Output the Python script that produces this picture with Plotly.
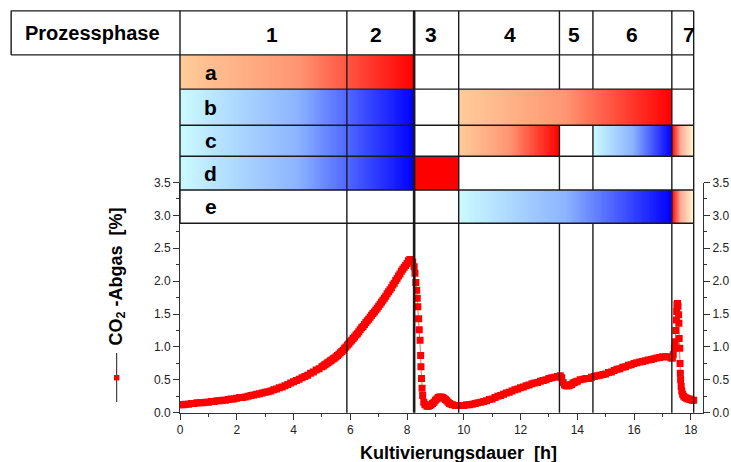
import plotly.graph_objects as go

# ---------------------------------------------------------------------------
# CO2 in the off-gas [%] over cultivation time [h], one list per stretch
# ---------------------------------------------------------------------------
growth = [
    (0.0, .12), (0.1, .12), (0.2, .13), (0.3, .13), (0.4, .14), (0.5, .14), (0.6, .15), (0.7, .15), (0.8, .15), (0.9, .16),
    (1.0, .16), (1.1, .17), (1.2, .17), (1.3, .18), (1.4, .18), (1.5, .19), (1.6, .19), (1.7, .20), (1.8, .21), (1.9, .21),
    (2.0, .22), (2.1, .23), (2.2, .23), (2.3, .24), (2.4, .25), (2.5, .26), (2.6, .27), (2.7, .28), (2.8, .29), (2.9, .30),
    (3.0, .31), (3.1, .32), (3.2, .33), (3.3, .35), (3.4, .36), (3.5, .38), (3.6, .39), (3.7, .41), (3.8, .43), (3.9, .45),
    (4.0, .47), (4.1, .49), (4.2, .51), (4.3, .53), (4.4, .55), (4.5, .57), (4.6, .60), (4.7, .62), (4.8, .65), (4.9, .67),
    (5.0, .70), (5.05, .71), (5.1, .73), (5.15, .74), (5.2, .76), (5.25, .77), (5.3, .79), (5.35, .80), (5.4, .82),
    (5.45, .83), (5.5, .85), (5.55, .87), (5.6, .89), (5.65, .91), (5.7, .93), (5.75, .95), (5.8, .98), (5.85, 1.00),
    (5.9, 1.03), (5.95, 1.05), (6.0, 1.08), (6.05, 1.10), (6.1, 1.13), (6.15, 1.15), (6.2, 1.18), (6.25, 1.20),
    (6.3, 1.23), (6.35, 1.26), (6.4, 1.29), (6.45, 1.31), (6.5, 1.34), (6.55, 1.37), (6.6, 1.40), (6.65, 1.42),
    (6.7, 1.45), (6.75, 1.48), (6.8, 1.51), (6.85, 1.53), (6.9, 1.56), (6.95, 1.59), (7.0, 1.62), (7.05, 1.65),
    (7.1, 1.68), (7.15, 1.71), (7.2, 1.74), (7.25, 1.77), (7.3, 1.81), (7.35, 1.84), (7.4, 1.87), (7.45, 1.90),
    (7.5, 1.94), (7.55, 1.97), (7.6, 2.01), (7.65, 2.04), (7.7, 2.08), (7.75, 2.11), (7.8, 2.15), (7.85, 2.18),
    (7.9, 2.21), (7.95, 2.24), (8.0, 2.27), (8.05, 2.31), (8.1, 2.33), (8.15, 2.32), (8.2, 2.29), (8.25, 2.22),
]
drop = [
    (8.28, 2.12), (8.31, 1.98), (8.34, 1.86), (8.36, 1.74), (8.38, 1.61), (8.41, 1.43), (8.43, 1.26),
    (8.46, 1.10), (8.48, 0.87), (8.49, 0.70), (8.51, 0.52), (8.53, 0.37), (8.55, 0.26), (8.59, 0.16),
    (8.63, 0.12), (8.7, 0.10), (8.75, 0.10), (8.8, 0.11), (8.85, 0.12), (8.9, 0.14), (8.95, 0.16),
    (9.0, 0.19), (9.05, 0.21), (9.1, 0.23), (9.15, 0.24), (9.2, 0.24), (9.25, 0.23), (9.3, 0.22),
    (9.35, 0.20), (9.4, 0.18), (9.45, 0.16), (9.5, 0.14), (9.55, 0.13), (9.6, 0.12), (9.7, 0.11), (9.8, 0.11),
]
feed = [
    (9.9, .11), (10.0, .11), (10.1, .12), (10.2, .12), (10.3, .13), (10.4, .14), (10.5, .15), (10.6, .16),
    (10.7, .17), (10.8, .18), (10.9, .20), (11.0, .21), (11.1, .23), (11.2, .25), (11.3, .26), (11.4, .28),
    (11.5, .30), (11.6, .31), (11.7, .33), (11.8, .35), (11.9, .36), (12.0, .38), (12.1, .39), (12.2, .41),
    (12.3, .42), (12.4, .44), (12.5, .45), (12.6, .46), (12.7, .48), (12.8, .49), (12.9, .50), (13.0, .52),
    (13.1, .53), (13.2, .54), (13.3, .55), (13.4, .56),
]
late = [
    (13.45, .53), (13.5, .46), (13.55, .42), (13.6, .41), (13.65, .41), (13.7, .41), (13.75, .42), (13.8, .43),
    (13.85, .45), (13.9, .46), (13.95, .47), (14.0, .48), (14.1, .50), (14.2, .51), (14.3, .52), (14.4, .52),
    (14.5, .54), (14.6, .55), (14.7, .56), (14.8, .57),
    (14.9, .58), (15.0, .59), (15.1, .61), (15.2, .62), (15.3, .64), (15.4, .66), (15.5, .67), (15.6, .69),
    (15.7, .70), (15.8, .72), (15.9, .73), (16.0, .75), (16.1, .76), (16.2, .77), (16.3, .78), (16.4, .79),
    (16.5, .80), (16.6, .81), (16.7, .82), (16.8, .83), (16.9, .84), (17.0, .85), (17.1, .85), (17.2, .85),
    (17.3, .83),
]
final = [
    (17.35, .83), (17.38, .88), (17.42, .98), (17.45, 1.08), (17.47, 1.25), (17.49, 1.41), (17.50, 1.54),
    (17.51, 1.64), (17.53, 1.66), (17.55, 1.62), (17.57, 1.49), (17.58, 1.36), (17.59, 1.13), (17.61, .98),
    (17.62, .75), (17.63, .60), (17.64, .50), (17.66, .40), (17.68, .33), (17.71, .28), (17.75, .25),
    (17.8, .23), (17.85, .22), (17.9, .21), (17.95, .21), (18.0, .20), (18.05, .19), (18.1, .19),
]

readings = growth + drop + feed + late + final
time_h = [t for t, _ in readings]
co2_pct = [v for _, v in readings]

# process phases and the limits between them [h]
phase_labels = ["1", "2", "3", "4", "5", "6", "7"]
phase_bounds = [0.0, 5.88, 8.25, 9.82, 13.37, 14.55, 17.33, 18.1]
phase_label_x = [3.24, 6.89, 8.84, 11.63, 13.88, 15.94, 17.94]
row_labels = ["a", "b", "c", "d", "e"]

# ---------------------------------------------------------------------------
# geometry (pixels of the 731 x 462 page) and table rows in %-axis units
# ---------------------------------------------------------------------------
W, H = 731, 462
X0_PX, PX_PER_H = 180.0, 28.38
Y0_PX, PX_PER_PCT = 412.7, 65.77
X_MAX, Y_MAX = 18.43, 3.5

HEADER_TOP = 6.11
ROW_EDGES = [5.44, 4.92, 4.37, 3.90, 3.385, 2.88]   # header bottom, then a..e bottoms
HEADER_LEFT = -5.95
THICK_LIMIT = 2                                     # index in phase_bounds

WARM = [[0, "rgb(255,204,153)"], [0.5, "rgb(255,150,115)"], [1, "rgb(255,0,0)"]]
COOL = [[0, "rgb(204,250,255)"], [0.5, "rgb(140,180,255)"], [1, "rgb(0,0,255)"]]
FADE = [[0, "rgb(255,0,0)"], [0.4, "rgb(255,170,150)"], [1, "rgb(255,250,210)"]]
SOLID = [[0, "rgb(255,0,0)"], [1, "rgb(255,0,0)"]]

# (row index, first phase index, last phase index, colour ramp, merged cell)
bands = [
    (0, 0, 1, WARM, False),
    (1, 0, 1, COOL, False), (1, 3, 5, WARM, True),
    (2, 0, 1, COOL, False), (2, 3, 3, WARM, False), (2, 5, 5, COOL, False), (2, 6, 6, FADE, False),
    (3, 0, 1, COOL, False), (3, 2, 2, SOLID, False),
    (4, 3, 5, COOL, True), (4, 6, 6, FADE, False),
]

FONT = "Arial, 'Liberation Sans', sans-serif"
INK = "#1a1a1a"

fig = go.Figure()

# the CO2 curve
fig.add_trace(go.Scatter(
    x=time_h, y=co2_pct, mode="lines+markers",
    line=dict(color="rgba(255,40,40,0.75)", width=1),
    marker=dict(symbol="square", size=7, color="#ff0000", line=dict(width=0)),
    showlegend=False, hoverinfo="x+y",
))
# carrier for the right-hand axis
fig.add_trace(go.Scatter(x=[0], y=[0], yaxis="y3", mode="markers", marker=dict(opacity=0),
                         showlegend=False, hoverinfo="skip"))

# gradient bands of the phase table
N = 120
for row, p0, p1, ramp, _ in bands:
    x0, x1 = phase_bounds[p0], phase_bounds[p1 + 1]
    xs = [x0 + (x1 - x0) * i / N for i in range(N + 1)]
    zs = [[(i + 0.5) / N for i in range(N)]]
    fig.add_trace(go.Heatmap(
        x=xs, y=[ROW_EDGES[row + 1], ROW_EDGES[row]], z=zs,
        colorscale=ramp, zmin=0, zmax=1, showscale=False, hoverinfo="skip",
        xaxis="x2", yaxis="y2",
    ))

shapes = []


def hline(y, x0, x1, w=1.4):
    shapes.append(dict(type="line", xref="x2", yref="y2", x0=x0, x1=x1, y0=y, y1=y,
                       line=dict(color=INK, width=w), layer="above"))


def vline(x, y0, y1, w=1.4):
    shapes.append(dict(type="line", xref="x2", yref="y2", x0=x, x1=x, y0=y0, y1=y1,
                       line=dict(color=INK, width=w), layer="above"))


def merged_across(row, k):
    """True where a merged band in this row runs across phase limit k."""
    return any(r == row and m and p0 < k <= p1 for r, p0, p1, _, m in bands)


# table grid
hline(HEADER_TOP, HEADER_LEFT, phase_bounds[-1])
hline(ROW_EDGES[0], HEADER_LEFT, phase_bounds[-1])
for y in ROW_EDGES[1:]:
    hline(y, phase_bounds[0], phase_bounds[-1])
vline(HEADER_LEFT, ROW_EDGES[0], HEADER_TOP)
vline(phase_bounds[0], ROW_EDGES[-1], HEADER_TOP)
for k, b in enumerate(phase_bounds[1:], start=1):
    w = 2.6 if k == THICK_LIMIT else 1.4
    vline(b, 0, ROW_EDGES[-1], w)                     # through the plot area
    vline(b, ROW_EDGES[0], HEADER_TOP, w)             # header cell
    for row in range(len(row_labels)):
        if not merged_across(row, k):
            vline(b, ROW_EDGES[row + 1], ROW_EDGES[row], w)

# legend symbol beside the rotated y title
LX = 116.7
shapes.append(dict(type="line", xref="paper", yref="paper", x0=LX / W, x1=LX / W,
                   y0=1 - 402 / H, y1=1 - 353 / H, line=dict(color=INK, width=1)))
shapes.append(dict(type="rect", xref="paper", yref="paper", x0=(LX - 2.7) / W, x1=(LX + 2.7) / W,
                   y0=1 - 380.4 / H, y1=1 - 375.0 / H, fillcolor="#ff0000", line=dict(width=0)))

bold20 = dict(family=FONT, size=20, color="black", weight="bold")
bold21 = dict(family=FONT, size=21, color="black", weight="bold")
bold18 = dict(family=FONT, size=18, color="black", weight="bold")
centred = dict(showarrow=False, xanchor="center", yanchor="middle")

annotations = []
header_mid = (HEADER_TOP + ROW_EDGES[0]) / 2
annotations.append(dict(x=-3.1, y=header_mid, xref="x2", yref="y2", text="Prozessphase",
                        font=bold20, **centred))
for lab, lx in zip(phase_labels, phase_label_x):
    annotations.append(dict(x=lx, y=header_mid - 0.03, xref="x2", yref="y2", text=lab,
                            font=bold21, **centred))
for i, lab in enumerate(row_labels):
    annotations.append(dict(x=1.09, y=(ROW_EDGES[i] + ROW_EDGES[i + 1]) / 2, xref="x2", yref="y2",
                            text=lab, font=bold21, **centred))

# axis titles
annotations.append(dict(x=458 / W, y=1 - 453 / H, xref="paper", yref="paper",
                        text="Kultivierungsdauer\u00a0\u00a0[h]", font=bold18, **centred))
annotations.append(dict(x=117 / W, y=1 - 276.5 / H, xref="paper", yref="paper", textangle=-90,
                        text="CO<sub>2</sub>\u00a0-Abgas\u00a0\u00a0[%]", font=bold18, **centred))

tickfont = dict(family=FONT, size=12, color="#222")
common_y = dict(range=[0, Y_MAX], dtick=0.5, tick0=0, tickformat=".1f", showgrid=False,
                zeroline=False, showline=True, linecolor="#333", linewidth=1,
                ticks="outside", ticklen=6, tickcolor="#333", tickfont=tickfont,
                minor=dict(dtick=0.25, ticks="outside", ticklen=3, tickcolor="#333"),
                fixedrange=True, automargin=False)

fig.update_layout(
    width=W, height=H, margin=dict(l=0, r=0, t=0, b=0, pad=0, autoexpand=False),
    paper_bgcolor="white", plot_bgcolor="rgba(0,0,0,0)",
    xaxis=dict(domain=[X0_PX / W, (X0_PX + X_MAX * PX_PER_H) / W], range=[0, X_MAX],
               dtick=2, tick0=0, showgrid=False, zeroline=False, showline=True,
               linecolor="#333", linewidth=1, ticks="outside", ticklen=6, tickcolor="#333",
               tickfont=tickfont, anchor="y", automargin=False,
               minor=dict(dtick=1, ticks="outside", ticklen=3, tickcolor="#333"),
               fixedrange=True),
    yaxis=dict(domain=[(H - Y0_PX) / H, (H - Y0_PX + Y_MAX * PX_PER_PCT) / H], anchor="x",
               side="left", **common_y),
    yaxis3=dict(overlaying="y", side="right", anchor="x", **common_y),
    xaxis2=dict(domain=[0, 1], range=[-X0_PX / PX_PER_H, (W - X0_PX) / PX_PER_H],
                visible=False, anchor="y2", fixedrange=True, automargin=False),
    yaxis2=dict(domain=[0, 1], range=[-(H - Y0_PX) / PX_PER_PCT, Y0_PX / PX_PER_PCT],
                visible=False, anchor="x2", fixedrange=True, automargin=False),
    shapes=shapes, annotations=annotations, showlegend=False,
)

fig.write_html("out.html")
